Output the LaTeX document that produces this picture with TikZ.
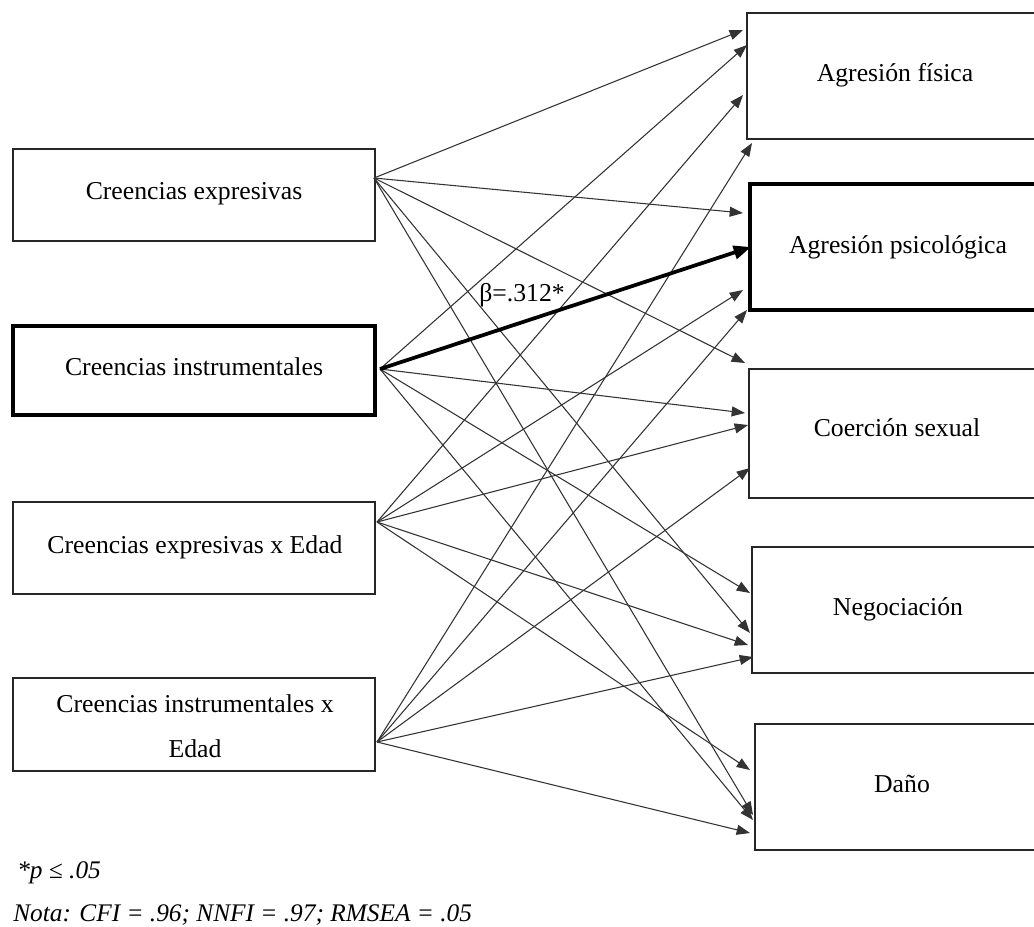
\documentclass[tikz,border=0pt]{standalone}
\usepackage{fontspec}
\setmainfont{Liberation Serif}
\usetikzlibrary{arrows.meta}
\begin{document}
\begin{tikzpicture}[x=0.75pt,y=-0.75pt,
  box/.style={draw=black!85,line width=1.2pt,inner sep=0pt,outer sep=0pt},
  thickbox/.style={box,draw=black,line width=2.6pt},
  lbl/.style={font=\fontsize{19.3}{23}\selectfont,inner sep=0pt,anchor=base},
  note/.style={font=\fontsize{19}{23}\selectfont\itshape,inner sep=0pt,anchor=base west},
  arr/.style={draw=black!80,line width=0.8pt,-{Triangle[length=10pt,width=7.5pt]}},
  sig/.style={draw=black,line width=2.8pt,-{Triangle[length=13pt,width=10pt]}}]
\useasboundingbox (0,0) rectangle (1034,926);
\clip (0,0) rectangle (1034,926);

% left boxes
\node[box,minimum width=362*0.75pt,minimum height=92*0.75pt] (b1) at (194,195) {};
\node[thickbox,minimum width=362*0.75pt,minimum height=89*0.75pt] (b2) at (194,370.5) {};
\node[box,minimum width=362*0.75pt,minimum height=92*0.75pt] (b3) at (194,548) {};
\node[box,minimum width=362*0.75pt,minimum height=93*0.75pt] (b4) at (194,724.5) {};
\node[lbl] (t1) at (194,199) {Creencias expresivas};
\node[lbl] (t2) at (194,375) {Creencias instrumentales};
\node[lbl] (t3) at (195,553) {Creencias expresivas x Edad};
\node[font=\fontsize{19.3}{33.75}\selectfont,inner sep=0pt,align=center] (t4) at (195,726) {Creencias instrumentales x\\Edad};

% right boxes
\node[box,minimum width=298*0.75pt,minimum height=126*0.75pt] (rA) at (896,76) {};
\node[thickbox,minimum width=295*0.75pt,minimum height=126*0.75pt] (rB) at (897.5,247) {};
\node[box,minimum width=296*0.75pt,minimum height=129*0.75pt] (rC) at (897,433.5) {};
\node[box,minimum width=293*0.75pt,minimum height=126*0.75pt] (rD) at (898.5,610) {};
\node[box,minimum width=290*0.75pt,minimum height=126*0.75pt] (rE) at (900,787) {};
\node[lbl] (tA) at (895,81) {Agresión física};
\node[lbl] (tB) at (898,253) {Agresión psicológica};
\node[lbl] (tC) at (897,436) {Coerción sexual};
\node[lbl] (tD) at (898,615) {Negociación};
\node[lbl] (tE) at (902,792) {Daño};

% sources
\coordinate (o1) at (374,178);
\coordinate (o2) at (380,369);
\coordinate (o3) at (377,522);
\coordinate (o4) at (377,742);
% targets
\coordinate (a1) at (743,30);  \coordinate (a2) at (747,45);  \coordinate (a3) at (743,95);  \coordinate (a4) at (752,143);
\coordinate (p1) at (743,213); \coordinate (p2) at (751,247); \coordinate (p3) at (743,290); \coordinate (p4) at (747,310);
\coordinate (c1) at (745,363); \coordinate (c2) at (745,413); \coordinate (c3) at (748,425); \coordinate (c4) at (750,468);
\coordinate (n1) at (750,633); \coordinate (n2) at (750,593); \coordinate (n3) at (748,645); \coordinate (n4) at (753,657);
\coordinate (d1) at (753,815); \coordinate (d2) at (753,820); \coordinate (d3) at (750,770); \coordinate (d4) at (750,833);

\foreach \s/\t in {o1/a1,o2/a2,o3/a3,o4/a4,
                   o1/p1,o3/p3,o4/p4,
                   o1/c1,o2/c2,o3/c3,o4/c4,
                   o1/n1,o2/n2,o3/n3,o4/n4,
                   o1/d1,o2/d2,o3/d3,o4/d4}
  \draw[arr] (\s) -- (\t);
\draw[sig] (o2) -- (p2);

\node[lbl,anchor=base west] (beta) at (479,301) {β=.312*};

\node[note] (pnote) at (17,878) {*p ≤ .05};
\node[note] (fit) at (13,921) {Nota: CFI = .96; NNFI = .97; RMSEA = .05};
\end{tikzpicture}
\end{document}
